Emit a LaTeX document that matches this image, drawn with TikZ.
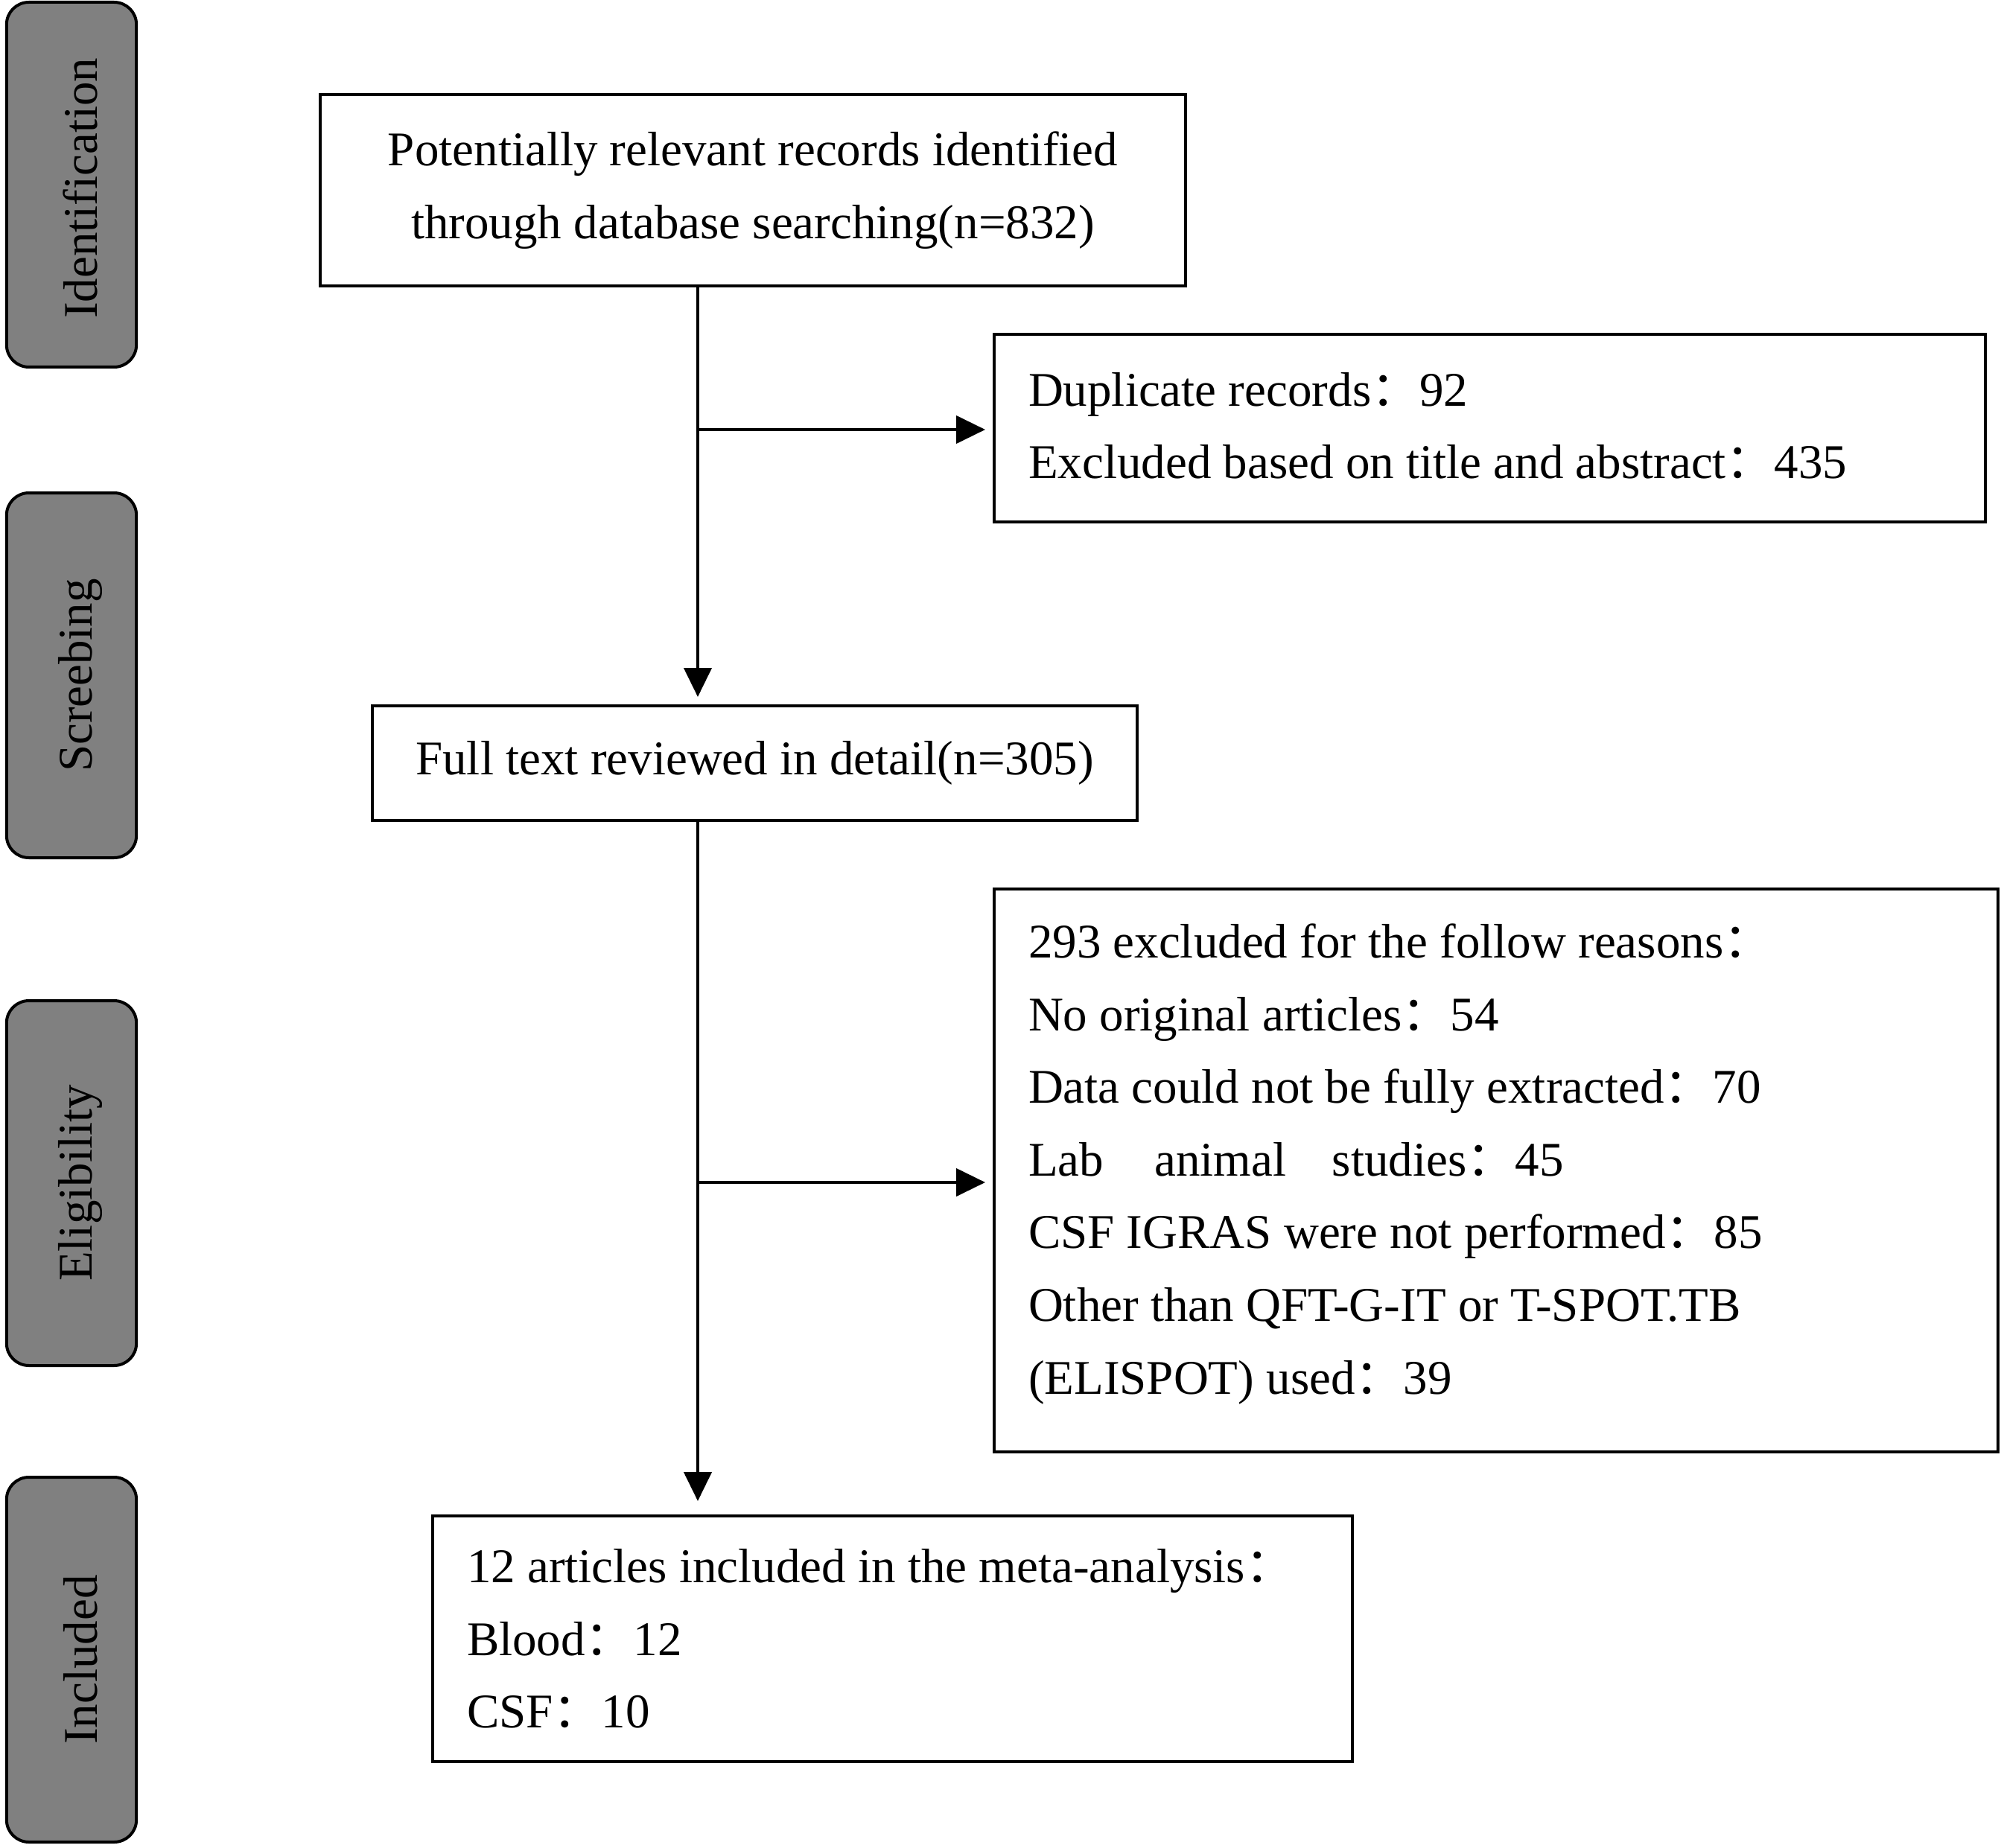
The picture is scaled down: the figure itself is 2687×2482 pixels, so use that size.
\documentclass[tikz,border=0pt]{standalone}
\usepackage{fontspec}
\setmainfont{Liberation Serif}
\newfontfamily\cjk{Noto Sans CJK SC}
\usetikzlibrary{arrows.meta,calc}
\newcommand\fwc{{\cjk ：}}
\newcommand\tsp{\spaceskip=0.25em\relax}
\newcommand\lastln[2]{\raisebox{0pt}[\height][\dimexpr\depth+#1\relax]{#2}}
\definecolor{bargray}{HTML}{808080}
\begin{document}
\begin{tikzpicture}[x=0.25pt,y=-0.25pt,
  txt/.style={font=\fontsize{16.25pt}{24.4pt}\selectfont},
  box/.style={txt,draw=black,line width=1pt,inner xsep=11.5pt,inner ysep=0pt},
  bar/.style={draw=black,fill=bargray,line width=1pt,rounded corners=7.5pt,
    minimum width=43.6pt,minimum height=122.5pt,inner sep=0pt},
  bartext/.style={txt,rotate=90,inner sep=0pt},
  conn/.style={line width=1.1pt,-{Triangle[length=9.75pt,width=9.25pt]},shorten >=2.5pt}]
\useasboundingbox (0,0) rectangle (2687,2482);
% stage bars
\node[bar] (b1) at (96,248) {};
\node[bar] (b2) at (96,907) {};
\node[bar] (b3) at (96,1589) {};
\node[bar] (b4) at (96,2229) {};
\node[bartext] (t1) at ([xshift=3pt,yshift=-1.2pt]b1.center) {Identification};
\node[bartext] (t2) at ([xshift=3pt]b2.center) {Screebing};
\node[bartext] (t3) at ([xshift=3pt]b3.center) {Eligibility};
\node[bartext] (t4) at ([xshift=3pt]b4.center) {Included};
% boxes
\node[box,align=center,minimum width=290.5pt,minimum height=64.25pt] (box1) at (1011,255.5)
  {Potentially relevant records identified\\through database searching(n=832)};
\node[box,align=left,text width=309.75pt,minimum height=63pt] (box2) at (2000.5,575)
  {\tsp Duplicate records\fwc92\\\lastln{1.7pt}{Excluded based on title and abstract\fwc435}};
\node[box,align=center,minimum width=256.75pt,minimum height=38.5pt] (box3) at (1013.5,1025)
  {Full text reviewed in detail(n=305)};
\node[box,align=left,text width=314pt,minimum height=189pt] (box4) at (2009,1572)
  {\tsp 293 excluded for the follow reasons\fwc\\
   No original articles\fwc54\\
   Data could not be fully extracted\fwc70\\
   Lab\hspace{1.05em}animal\hspace{0.95em}studies\fwc45\\
   CSF IGRAS were not performed\fwc85\\
   Other than QFT-G-IT or T-SPOT.TB\\
   \lastln{4.3pt}{(ELISPOT) used\fwc39}};
\node[box,align=left,text width=285.75pt,minimum height=82.5pt] (box5) at (1198.5,2201)
  {\tsp\mbox{12 articles included in the meta-analysis\fwc}\\
   Blood\fwc12\\
   CSF\fwc10};
% connectors
\coordinate (j1) at (937,577);
\coordinate (j2) at (937,1588);
\draw[conn] (box1.south -| j1) -- (box3.north -| j1);
\draw[conn] (j1) -- (box2.west |- j1);
\draw[conn,shorten >=4.5pt] (box3.south -| j2) -- (box5.north -| j2);
\draw[conn] (j2) -- (box4.west |- j2);
\end{tikzpicture}
\end{document}
